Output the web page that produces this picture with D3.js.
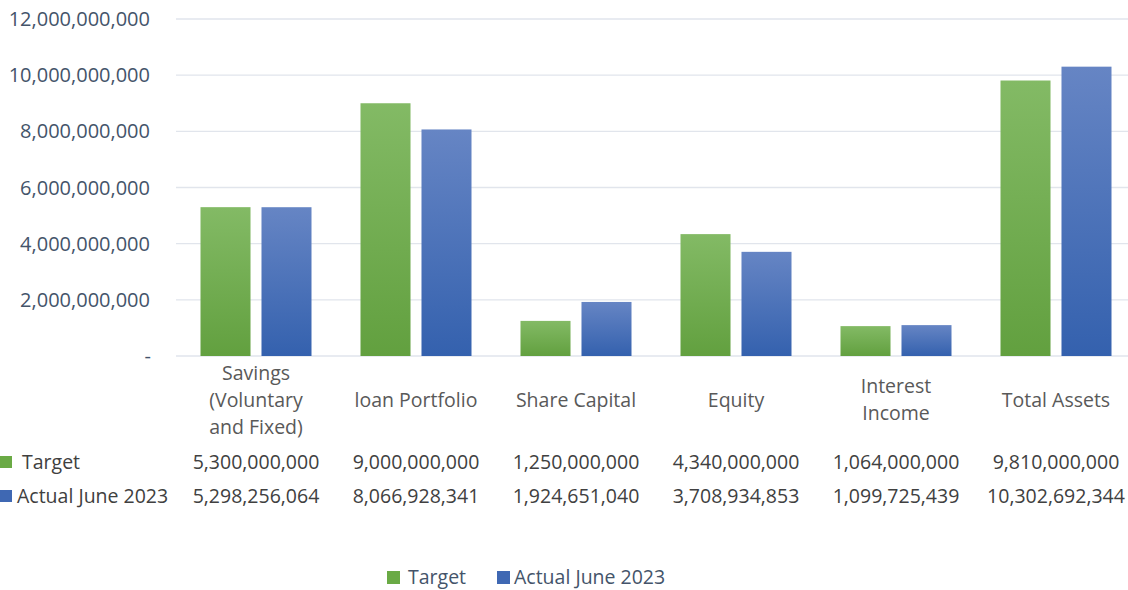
<!DOCTYPE html>
<html>
<head>
<meta charset="utf-8">
<script src="https://cdn.jsdelivr.net/npm/d3@7"></script>
<style>
  body { margin: 0; background: #fff; }
  svg text { font-family: "Open Sans", sans-serif; }
</style>
</head>
<body>
<div id="chart"></div>
<script>
// data
const categories = [["Savings", "(Voluntary", "and Fixed)"], ["loan Portfolio"], ["Share Capital"], ["Equity"], ["Interest", "Income"], ["Total Assets"]];
const seriesNames = ["Target", "Actual June 2023"];
const target = [5300000000, 9000000000, 1250000000, 4340000000, 1064000000, 9810000000];
const actual = [5298256064, 8066928341, 1924651040, 3708934853, 1099725439, 10302692344];
const yTicks = [0, 2e9, 4e9, 6e9, 8e9, 10e9, 12e9];

const width = 1128, height = 590;
const svg = d3.select("#chart").append("svg")
  .attr("width", width)
  .attr("height", height);

// gradients for the bars
const defs = svg.append("defs");
const grads = [["g-target", "#83ba65", "#62a03f"], ["g-actual", "#6685c4", "#3461ae"]];
grads.forEach(function (g) {
  let lg = defs.append("linearGradient").attr("id", g[0])
    .attr("x1", 0).attr("y1", 0).attr("x2", 0).attr("y2", 1);
  lg.append("stop").attr("offset", "0%").attr("stop-color", g[1]);
  lg.append("stop").attr("offset", "100%").attr("stop-color", g[2]);
});
const fills = ["url(#g-target)", "url(#g-actual)"];
const swatch = ["#6aaa45", "#3f68b3"];

const x = d3.scaleBand()
  .domain(d3.range(categories.length))
  .range([176, 1136]);

const y = d3.scaleLinear().domain([0, 12e9]).range([356, 19]);

// gridlines
svg.append("g").selectAll("line")
  .data(yTicks)
  .enter().append("line")
  .attr("x1", 176).attr("x2", width)
  .attr("y1", d => y(d)).attr("y2", d => y(d))
  .attr("stroke", "#e1e5ec")
  .attr("stroke-width", 1.3);

// y axis labels
svg.append("g").selectAll("text")
  .data(yTicks)
  .enter().append("text")
  .attr("x", d => d === 0 ? 151 : 150)
  .attr("y", d => y(d))
  .attr("dy", "0.35em")
  .attr("text-anchor", "end")
  .attr("fill", "#44546a")
  .style("font-size", "20px")
  .text(d => d === 0 ? "-" : d3.format(",")(d));

// bars
const inner = d3.scaleBand().domain([0, 1]).range([24.5, x.bandwidth() - 24.5]).paddingInner(0.18);
[target, actual].forEach(function (vals, s) {
  svg.append("g").selectAll("rect")
    .data(vals)
    .enter().append("rect")
    .attr("x", (d, i) => x(i) + inner(s))
    .attr("width", inner.bandwidth())
    .attr("y", d => y(d))
    .attr("height", d => y(0) - y(d))
    .attr("fill", fills[s]);
});

// category labels
const lineH = 27;
categories.forEach(function (lines, i) {
  let cx = x(i) + x.bandwidth() / 2;
  let top = 400 - (lines.length - 1) * lineH / 2;
  lines.forEach(function (ln, j) {
    svg.append("text")
      .attr("x", cx).attr("y", top + j * lineH)
      .attr("dy", "0.35em")
      .attr("text-anchor", "middle")
      .attr("fill", "#595959")
      .style("font-size", "19.5px")
      .text(ln);
  });
});

// data table rows
const rowY = [462, 496];
[target, actual].forEach(function (vals, s) {
  svg.append("g").selectAll("text")
    .data(vals)
    .enter().append("text")
    .attr("x", (d, i) => x(i) + x.bandwidth() / 2)
    .attr("y", rowY[s])
    .attr("dy", "0.35em")
    .attr("text-anchor", "middle")
    .attr("fill", "#404040")
    .style("font-size", "19.5px")
    .text(d => d3.format(",")(d));
});

// row keys
const rowKeyX = [22, 17];
seriesNames.forEach(function (n, s) {
  svg.append("rect")
    .attr("x", 0).attr("y", rowY[s] - 6)
    .attr("width", 12).attr("height", 12)
    .attr("fill", swatch[s]);
  svg.append("text")
    .attr("x", rowKeyX[s]).attr("y", rowY[s])
    .attr("dy", "0.35em")
    .attr("fill", "#404040")
    .style("font-size", "19.5px")
    .text(n);
});

// bottom legend
const legX = [387, 497];
seriesNames.forEach(function (n, s) {
  svg.append("rect")
    .attr("x", legX[s]).attr("y", 571)
    .attr("width", 13).attr("height", 13)
    .attr("fill", swatch[s]);
  svg.append("text")
    .attr("x", legX[s] + (s === 0 ? 21 : 17)).attr("y", 577)
    .attr("dy", "0.35em")
    .attr("fill", "#44546a")
    .style("font-size", "19.5px")
    .text(n);
});
</script>
</body>
</html>
